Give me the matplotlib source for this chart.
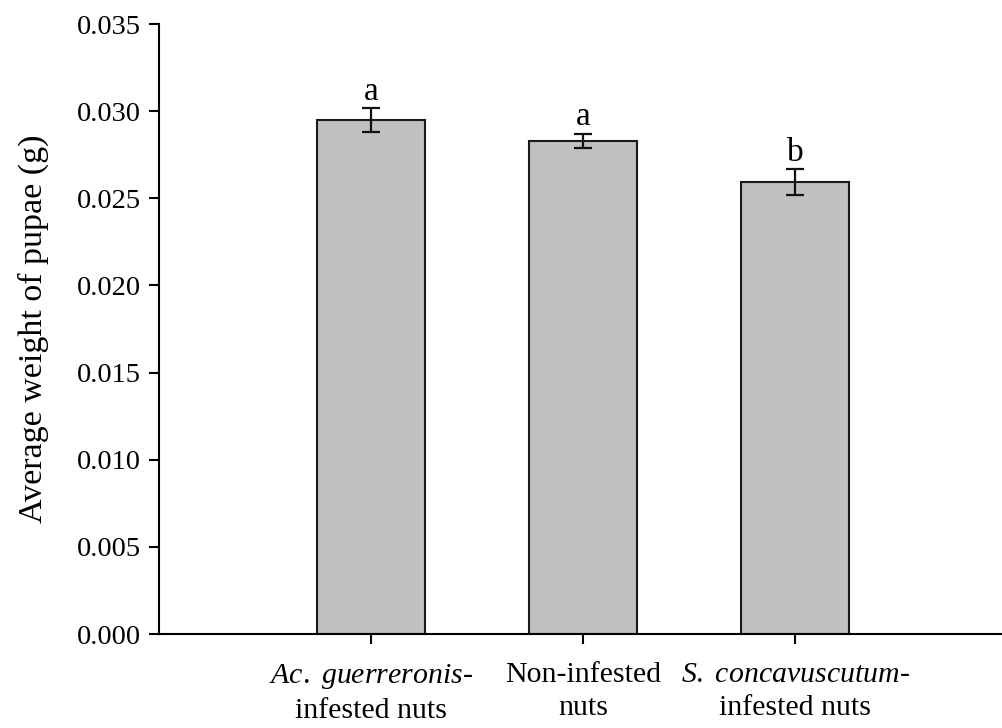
import numpy as np
import matplotlib
matplotlib.use('Agg')
import matplotlib.pyplot as plt

FONT = 'Liberation Serif'
plt.rcParams['font.family'] = FONT
plt.rcParams['mathtext.fontset'] = 'custom'
plt.rcParams['mathtext.rm'] = FONT
plt.rcParams['mathtext.it'] = FONT + ':italic'

# data
groups = [r'$\mathit{Ac.\ guerreronis}$-' + '\ninfested nuts',
          'Non-infested\nnuts',
          r'$\mathit{S.\ concavuscutum}$-' + '\ninfested nuts']
weights = [0.02949, 0.02829, 0.02592]
errors = [0.00067, 0.00042, 0.00076]
letters = ['a', 'a', 'b']
yticks = [0.000, 0.005, 0.010, 0.015, 0.020, 0.025, 0.030, 0.035]

fig = plt.figure(figsize=(10.02, 7.28), dpi=100)
ax = fig.add_axes([159 / 1002, 1 - 634 / 728, 843 / 1002, 610 / 728])

x = np.arange(1, len(weights) + 1)
ax.bar(x, weights, width=0.51, color='#c0c0c0', edgecolor='#1a1a1a', linewidth=1.5, zorder=2)
ax.errorbar(x, weights, yerr=errors, fmt='none', ecolor='#111111', elinewidth=1.6,
            capsize=6.5, capthick=1.6, zorder=3)

for xi, w, e, l in zip(x, weights, errors, letters):
    ax.annotate(l, (xi, w + e), xytext=(0, 6), textcoords='offset points',
                ha='center', va='baseline', fontsize=24)

ax.set_xlim(0, 843 / 212)
ax.set_ylim(0, 0.035)
ax.set_yticks(yticks)
ax.set_yticklabels([f'{t:.3f}' for t in yticks])
ax.set_xticks(x)
ax.set_xticklabels(groups)

ax.set_ylabel('Average weight of pupae (g)', fontsize=24.5, labelpad=20)

ax.tick_params(which='major', direction='out', length=7, width=1.5, labelsize=20.5, pad=6)
ax.tick_params(axis='x', labelsize=21.5, pad=13)
for t in ax.get_xticklabels():
    t.set_linespacing(1.35)

for s in ['top', 'right']:
    ax.spines[s].set_visible(False)
for s in ['bottom', 'left']:
    ax.spines[s].set_linewidth(1.5)

fig.savefig('out.png', dpi=100)
